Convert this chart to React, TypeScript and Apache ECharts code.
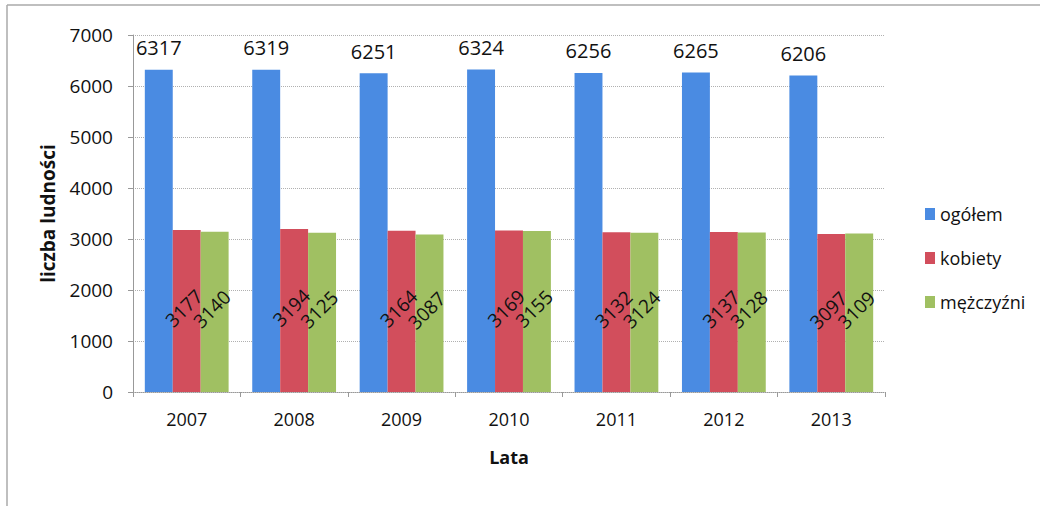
import React, { useEffect, useRef } from "react";
import * as echarts from "echarts";

const years = ["2007", "2008", "2009", "2010", "2011", "2012", "2013"];
const ogolem = [6317, 6319, 6251, 6324, 6256, 6265, 6206];
const kobiety = [3177, 3194, 3164, 3169, 3132, 3137, 3097];
const mezczyzni = [3140, 3125, 3087, 3155, 3124, 3128, 3109];
const seriesNames = ["ogółem", "kobiety", "mężczyźni"];
const colors = ["#4A8BE2", "#D24E5C", "#A0C062"];

const FONT = "'Open Sans', 'Noto Sans', sans-serif";

export default function App() {
  const ref = useRef<HTMLDivElement>(null);
  useEffect(() => {
    const chart = echarts.init(ref.current!, undefined, { renderer: "svg" });
    const innerLabel = {
      show: true,
      position: "inside",
      rotate: 45,
      offset: [0, -4],
      fontSize: 19,
      color: "#111",
      fontFamily: FONT,
    };
    chart.setOption({
      animation: false,
      backgroundColor: "#fff",
      textStyle: { fontFamily: FONT },
      graphic: [
        { type: "line", shape: { x1: 7, y1: 5, x2: 1040, y2: 5 }, style: { stroke: "#aaa", lineWidth: 1.5 } },
        { type: "line", shape: { x1: 7, y1: 5, x2: 7, y2: 506 }, style: { stroke: "#aaa", lineWidth: 1.5 } },
      ],
      grid: { left: 133, right: 155, top: 35, bottom: 114 },
      legend: {
        orient: "vertical",
        left: 920,
        top: 200,
        itemWidth: 10,
        itemHeight: 12,
        itemGap: 26,
        icon: "rect",
        textStyle: { fontSize: 18, color: "#111", fontFamily: FONT },
        data: seriesNames,
      },
      xAxis: {
        type: "category",
        data: years,
        name: "Lata",
        nameLocation: "middle",
        nameGap: 56,
        nameTextStyle: { fontSize: 18, fontWeight: "bold", color: "#111" },
        axisLine: { show: true, lineStyle: { color: "#999", type: "dotted" } },
        axisTick: { show: true, length: 5, lineStyle: { color: "#999" } },
        axisLabel: { fontSize: 18, color: "#111", margin: 18 },
      },
      yAxis: {
        type: "value",
        min: 0,
        max: 7000,
        interval: 1000,
        name: "liczba ludności",
        nameLocation: "middle",
        nameGap: 76,
        nameTextStyle: { fontSize: 19, fontWeight: "bold", color: "#111" },
        axisLine: { show: true, lineStyle: { color: "#999" } },
        axisTick: { show: true, length: 5, lineStyle: { color: "#999" } },
        axisLabel: { fontSize: 19, color: "#111", margin: 20, formatter: (v: number) => String(v) },
        splitLine: { show: true, lineStyle: { color: "#b0b0b0", type: "dotted" } },
      },
      series: [
        {
          name: seriesNames[0],
          type: "bar",
          data: ogolem,
          itemStyle: { color: colors[0] },
          barGap: "0%",
          barCategoryGap: "22%",
          label: { show: true, position: "top", distance: 12, fontSize: 20, color: "#111", fontFamily: FONT },
        },
        {
          name: seriesNames[1],
          type: "bar",
          data: kobiety,
          itemStyle: { color: colors[1] },
          label: innerLabel,
        },
        {
          name: seriesNames[2],
          type: "bar",
          data: mezczyzni,
          itemStyle: { color: colors[2] },
          label: innerLabel,
        },
      ],
    });
    return () => chart.dispose();
  }, []);
  return (
    <div
      ref={ref}
      style={{ position: "fixed", left: 0, top: 0, width: 1040, height: 506 }}
    />
  );
}
